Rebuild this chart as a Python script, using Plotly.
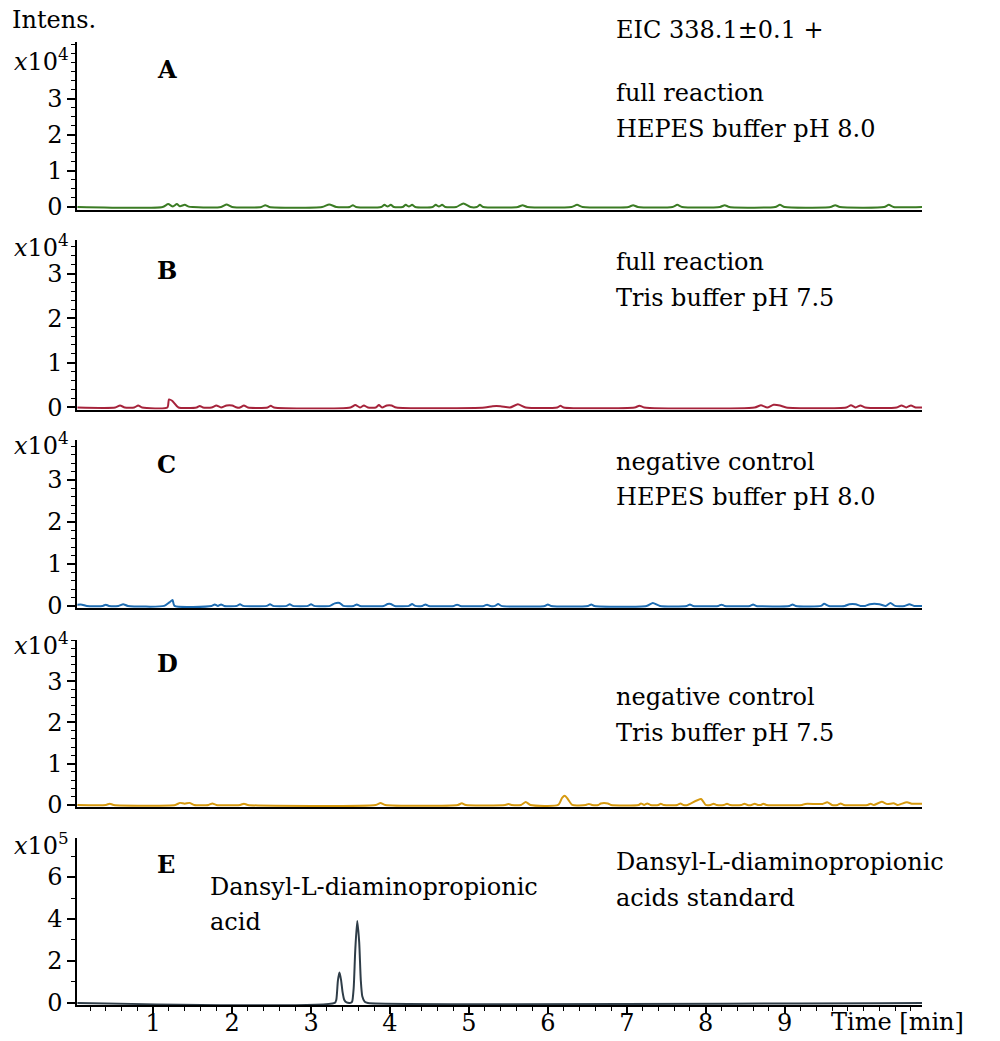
import plotly.graph_objects as go

# ---- chromatogram data: retention time (min) and intensity (counts) ----
# A: full reaction, HEPES buffer pH 8.0
time_a = [0.04, 1.12, 1.19, 1.25, 1.30, 1.34, 1.40, 1.45, 1.50,
          1.86, 1.93, 2.00, 2.37, 2.42, 2.47, 3.14, 3.23, 3.32,
          3.49, 3.53, 3.57, 3.89, 3.93, 3.97, 4.01, 4.05,
          4.16, 4.20, 4.24, 4.28, 4.32, 4.54, 4.58, 4.62, 4.66, 4.70,
          4.84, 4.93, 5.02, 5.10, 5.14, 5.18, 5.62, 5.68, 5.74,
          6.30, 6.37, 6.44, 7.02, 7.08, 7.14, 7.58, 7.64, 7.70,
          8.18, 8.24, 8.30, 8.88, 8.94, 9.00, 9.58, 9.64, 9.70,
          10.26, 10.32, 10.38, 10.74]
int_a = [0, 0, 800, 100, 800, 200, 600, 100, 0,
         0, 700, 0, 0, 500, 0, 0, 700, 0,
         0, 500, 0, 0, 600, 100, 600, 0,
         0, 600, 100, 600, 0, 0, 600, 100, 600, 0,
         0, 1000, 0, 0, 600, 0, 0, 500, 0,
         0, 600, 0, 0, 500, 0, 0, 600, 0,
         0, 500, 0, 0, 600, 0, 0, 500, 0,
         0, 600, 0, 0]

# B: full reaction, Tris buffer pH 7.5
time_b = [0.04, 0.52, 0.58, 0.64, 0.76, 0.81, 0.86,
          1.18, 1.20, 1.24, 1.32, 1.55, 1.59, 1.63,
          1.74, 1.80, 1.86, 1.93, 2.00, 2.06, 2.10, 2.15, 2.20,
          2.45, 2.49, 2.53, 3.50, 3.56, 3.62, 3.67, 3.72,
          3.82, 3.86, 3.90, 3.96, 4.02, 4.08,
          5.20, 5.30, 5.40, 5.52, 5.62, 5.72, 6.12, 6.16, 6.20,
          7.10, 7.16, 7.22, 8.62, 8.70, 8.78, 8.86, 8.94, 9.02,
          9.78, 9.84, 9.90, 9.96, 10.02,
          10.42, 10.48, 10.54, 10.60, 10.66, 10.74]
int_b = [0, 0, 450, 0, 0, 450, 0,
         0, 1800, 1500, 0, 0, 350, 0,
         0, 450, 0, 450, 450, 0, 0, 450, 0,
         0, 400, 0, 0, 550, 0, 450, 0,
         0, 550, 0, 450, 450, 0,
         0, 300, 300, 0, 700, 0, 0, 400, 0,
         0, 400, 0, 0, 500, 0, 600, 450, 0,
         0, 500, 0, 450, 0,
         0, 450, 0, 450, 0, 0]

# C: negative control, HEPES buffer pH 8.0
time_c = [0.04, 0.10, 0.16, 0.36, 0.40, 0.44, 0.56, 0.62, 0.68,
          1.14, 1.21, 1.245, 1.27,
          1.74, 1.78, 1.82, 1.86, 1.90, 2.06, 2.10, 2.14,
          2.44, 2.48, 2.52, 2.69, 2.73, 2.77, 2.96, 3.00, 3.04,
          3.24, 3.30, 3.36, 3.41, 3.54, 3.58, 3.62,
          3.92, 3.97, 4.01, 4.06, 4.24, 4.28, 4.32, 4.41, 4.45, 4.49,
          4.81, 4.85, 4.89, 5.19, 5.23, 5.27, 5.33, 5.37, 5.41,
          5.96, 6.00, 6.04, 6.51, 6.55, 6.59, 7.25, 7.33, 7.42,
          7.76, 7.80, 7.84, 8.16, 8.20, 8.24, 8.56, 8.60, 8.64,
          9.06, 9.10, 9.14, 9.46, 9.50, 9.56,
          9.76, 9.82, 9.90, 9.96, 10.02, 10.08, 10.20, 10.28, 10.34, 10.40,
          10.52, 10.58, 10.64, 10.74]
int_c = [300, 300, 0, 0, 300, 0, 0, 400, 0,
         0, 900, 1400, 0,
         0, 350, 0, 350, 0, 0, 400, 0,
         0, 400, 0, 0, 400, 0, 0, 400, 0,
         0, 600, 700, 0, 0, 350, 0,
         0, 450, 450, 0, 0, 450, 0, 0, 350, 0,
         0, 300, 0, 0, 300, 0, 0, 450, 0,
         0, 350, 0, 0, 350, 0, 0, 700, 0,
         0, 350, 0, 0, 300, 0, 0, 350, 0,
         0, 350, 0, 0, 500, 0,
         0, 400, 400, 0, 0, 400, 400, 0, 700, 0,
         0, 400, 0, 0]

# D: negative control, Tris buffer pH 7.5
time_d = [0.04, 0.40, 0.45, 0.50, 1.28, 1.34, 1.40, 1.46, 1.52,
          1.70, 1.75, 1.80, 2.10, 2.15, 2.20, 3.82, 3.88, 3.94,
          4.86, 4.91, 4.96, 5.46, 5.50, 5.54, 5.66, 5.72, 5.78,
          6.13, 6.18, 6.215, 6.25, 6.31,
          6.48, 6.52, 6.56, 6.64, 6.67, 6.76, 6.80,
          7.15, 7.18, 7.22, 7.26, 7.30, 7.40, 7.43, 7.47, 7.64, 7.68, 7.72,
          7.77, 7.94, 8.00,
          8.06, 8.10, 8.14, 8.23, 8.27, 8.31, 8.45, 8.49, 8.53,
          8.58, 8.62, 8.66, 8.70, 8.73, 8.77,
          9.22, 9.26, 9.48, 9.54, 9.60, 9.67, 9.71, 9.75,
          10.05, 10.09, 10.13, 10.23, 10.30, 10.38, 10.43, 10.47, 10.55, 10.61, 10.74]
int_d = [0, 0, 300, 0, 0, 500, 300, 500, 0,
         0, 350, 0, 0, 300, 0, 0, 450, 0,
         0, 400, 0, 0, 200, 0, 0, 700, 0,
         0, 1700, 2200, 1500, 0,
         0, 250, 0, 0, 350, 350, 0,
         0, 350, 0, 350, 0, 0, 300, 0, 0, 350, 0,
         0, 1450, 0,
         0, 300, 0, 0, 300, 0, 0, 300, 0,
         0, 300, 0, 0, 300, 0,
         0, 250, 250, 650, 0, 0, 350, 0,
         0, 300, 0, 750, 200, 400, 0, 200, 650, 300, 300]

# E: Dansyl-L-diaminopropionic acids standard
time_e = [0.04, 3.30, 3.32, 3.34, 3.36, 3.38, 3.40, 3.42, 3.45, 3.50,
          3.52, 3.54, 3.56, 3.585, 3.61, 3.63, 3.65, 3.68, 3.72, 10.74]
int_e = [0, 0, 15000, 105000, 145000, 110000, 50000, 15000, 2000, 0,
         5000, 70000, 250000, 390000, 290000, 110000, 30000, 5000, 0, 0]

# per-panel y ranges, tick values and labels
y_ranges = [(-700, 45800), (-450, 37500), (-500, 39500), (-500, 40000), (-10000, 786000)]
y_tickvals = [[0, 10000, 20000, 30000], [0, 10000, 20000, 30000],
              [0, 10000, 20000, 30000], [0, 10000, 20000, 30000],
              [0, 200000, 400000, 600000]]
y_ticktext = [["0", "1", "2", "3"]] * 4 + [["0", "2", "4", "6"]]
y_minor = [2500, 2000, 2000, 2000, 100000]
exponents = ["4", "4", "4", "4", "5"]
letters = ["A", "B", "C", "D", "E"]
colors = ["#3b7c24", "#a6233b", "#1f6db2", "#d6990f", "#2f3d48"]
x_ticks = [1, 2, 3, 4, 5, 6, 7, 8, 9]
x_range = (0.035, 10.74)

times = [time_a, time_b, time_c, time_d, time_e]
intensities = [int_a, int_b, int_c, int_d, int_e]

# ---- layout geometry (pixels) ----
W, H = 1000, 1041
ML, MR, MT, MB = 77, 78, 42, 36
PW, PH = W - ML - MR, H - MT - MB
# panel top / bottom edges
panels_px = [(42, 209.5), (240, 409.5), (440, 608), (640, 807), (838, 1005)]


def px_x(px):
    return (px - ML) / PW


def px_y(py):
    return (H - MB - py) / PH


FONT = "DejaVu Serif"
FS = 24

fig = go.Figure()
for i in range(5):
    n = i + 1
    fig.add_trace(go.Scatter(
        x=times[i], y=intensities[i], mode="lines",
        line=dict(color=colors[i], width=2, shape="spline", smoothing=0.6),
        xaxis=f"x{n}", yaxis=f"y{n}", showlegend=False, hoverinfo="skip"))

layout = dict(
    template="none",
    width=W, height=H,
    margin=dict(l=ML, r=MR, t=MT, b=MB, pad=0, autoexpand=False),
    paper_bgcolor="white", plot_bgcolor="white",
    font=dict(family=FONT, size=FS, color="black"),
    showlegend=False,
)

for i in range(5):
    n = i + 1
    top, bot = panels_px[i]
    last = (i == 4)
    xa = dict(
        domain=[0, 1], range=list(x_range), anchor=f"y{n}",
        showgrid=False, zeroline=False, showline=True,
        linecolor="black", linewidth=2, mirror=False,
        automargin=False, fixedrange=True,
    )
    if last:
        xa.update(ticks="outside", ticklen=7, tickwidth=1.5, tickcolor="black",
                  tickvals=x_ticks, ticktext=[str(v) for v in x_ticks],
                  tickfont=dict(family=FONT, size=FS, color="black"),
                  ticklabelstandoff=-12,
                  minor=dict(ticks="outside", dtick=0.2, tick0=0, ticklen=4,
                             tickwidth=1.2, tickcolor="black", showgrid=False))
    else:
        xa.update(showticklabels=False, ticks="")
    ya = dict(
        domain=[px_y(bot), px_y(top)], range=list(y_ranges[i]), anchor=f"x{n}",
        showgrid=False, zeroline=False, showline=True,
        linecolor="black", linewidth=1.5,
        ticks="outside", ticklen=8, tickwidth=1.5, tickcolor="black",
        tickvals=y_tickvals[i], ticktext=y_ticktext[i],
        tickfont=dict(family=FONT, size=FS, color="black"),
        minor=dict(ticks="outside", dtick=y_minor[i], tick0=0, ticklen=4,
                   tickwidth=1.2, tickcolor="black", showgrid=False),
        automargin=False, fixedrange=True,
    )
    layout[f"xaxis{'' if n == 1 else n}"] = xa
    layout[f"yaxis{'' if n == 1 else n}"] = ya

fig.update_layout(**layout)

annotations = []


def note(text, px, py, xanchor="left", size=FS, **kw):
    annotations.append(dict(
        text=text, x=px_x(px), y=px_y(py), xref="paper", yref="paper",
        xanchor=xanchor, yanchor="middle", showarrow=False,
        font=dict(family=FONT, size=size, color="black"), **kw))


note("Intens.", 10, 20)
exp_y = [60, 246, 444, 644, 844]
letter_y = [70, 270, 464, 664, 864]
for i in range(5):
    note(f"<i>x</i>10<sup>{exponents[i]}</sup>", 71, exp_y[i], xanchor="right")
    note(f"<b>{letters[i]}</b>", 155, letter_y[i], size=24)

RX = 614
side_labels = [
    [("EIC 338.1±0.1 +", 30), ("full reaction", 93), ("HEPES buffer pH 8.0", 129)],
    [("full reaction", 262), ("Tris buffer pH 7.5", 298)],
    [("negative control", 462), ("HEPES buffer pH 8.0", 497)],
    [("negative control", 697), ("Tris buffer pH 7.5", 733)],
    [("Dansyl-L-diaminopropionic", 862), ("acids standard", 898)],
]
for group in side_labels:
    for text, py in group:
        note(text, RX, py)

note("Dansyl-L-diaminopropionic", 208, 887)
note("acid", 208, 922)
note("Time [min]", 966, 1022, xanchor="right")

fig.update_layout(annotations=annotations)

fig.write_html("out.html", config={"displayModeBar": False})
